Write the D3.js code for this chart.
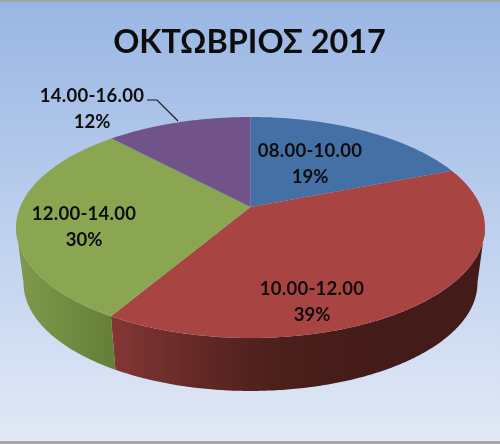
<!DOCTYPE html>
<html><head><meta charset="utf-8">
<script src="https://d3js.org/d3.v7.min.js"></script>
<style>html,body{margin:0;padding:0;background:#fff;overflow:hidden}svg{display:block;filter:blur(0.4px)}
text{font-family:Lato,"Open Sans",sans-serif;font-weight:700;fill:#0d0d0d;text-anchor:middle}</style>
</head><body><svg id="c" width="500" height="444"></svg>
<script>
const titleText = "ΟΚΤΩΒΡΙΟΣ 2017";
const categories = ["08.00-10.00","10.00-12.00","12.00-14.00","14.00-16.00"];
const values = [19.1, 39.4, 29.5, 12];
const topColors = ["#4570a6","#a84543","#8aa650","#725389"];
const wallStops = [
  [["#3a5f8e",0],["#2c4a70",1]],
  [["#843735",0],["#602725",.33],["#4a1f1c",.6],["#431b18",1]],
  [["#7f9a4d",0],["#667f38",1]],
  [["#5f4572",0],["#5f4572",1]]
];
const labelPos = [[310,151],[312,289],[84,214],[92,96]];

const svg = d3.select("#c");
const defs = svg.append("defs");
const bg = defs.append("linearGradient").attr("id","bg").attr("x1",0).attr("x2",0).attr("y1",0).attr("y2",1);
bg.append("stop").attr("offset",0).attr("stop-color","#99b6e3");
bg.append("stop").attr("offset",.55).attr("stop-color","#c0d2ef");
bg.append("stop").attr("offset",1).attr("stop-color","#e2e9f6");
svg.append("rect").attr("width",500).attr("height",444).attr("fill","url(#bg)");
svg.append("rect").attr("width",500).attr("height",2).attr("fill","#a6a6a6");
svg.append("rect").attr("y",441).attr("width",500).attr("height",3).attr("fill","#a6a6a6");

// perspective projection of the pie disc
const cx=250.5, cy=207, R=230.4, B=106.7, K=0.1855;
function proj(a){
  const X=Math.sin(a), Y=-Math.cos(a), w=1-K*Y;
  return [cx+R*X/w, cy+B*Y/w];
}
function lower(p){ return [cx+(p[0]-cx)*0.968, 283+(p[1]-227.5)*0.977]; }
function arcPts(a0,a1){
  const n=Math.max(2,Math.ceil((a1-a0)/0.01));
  return d3.range(n+1).map(i=>proj(a0+(a1-a0)*i/n));
}
const pie = d3.pie().sort(null).startAngle(0).endAngle(2*Math.PI);
const arcs = pie(values);
const line = d3.line();
// only the part of the rim between the two silhouette points faces the viewer
const frontA = Math.acos(-K), frontB = 2*Math.PI-frontA;

wallStops.forEach((st,i)=>{
  const g=defs.append("linearGradient").attr("id","w"+i).attr("gradientUnits","userSpaceOnUse");
  if(i===1){g.attr("x1",110).attr("x2",400)} else if(i===2){g.attr("x1",16).attr("x2",112)} else {g.attr("x1",0).attr("x2",500)}
  g.attr("y1",0).attr("y2",0);
  st.forEach(s=>g.append("stop").attr("offset",s[1]).attr("stop-color",s[0]));
});

// side wall
svg.append("g").selectAll("path")
  .data(arcs.filter(d=>d.endAngle>frontA && d.startAngle<frontB)).join("path")
  .attr("fill",d=>`url(#w${d.index})`)
  .attr("d",d=>{
    const t=arcPts(Math.max(d.startAngle,frontA),Math.min(d.endAngle,frontB));
    return line(t.concat(t.map(lower).reverse()))+"Z";
  });
// top face
svg.append("g").selectAll("path").data(arcs).join("path")
  .attr("fill",(d,i)=>topColors[i])
  .attr("d",d=>line([[cx,cy]].concat(arcPts(d.startAngle,d.endAngle)))+"Z");

svg.append("text").attr("x",249.5).attr("y",53).attr("font-size",32.4).text(titleText);

// leader line
svg.append("path").attr("fill","none").attr("stroke","#1a1a1a").attr("stroke-width",1.2)
  .attr("d",line([[147,100],[157,100],[178,121]]));

const total=d3.sum(values), pct=d3.format(".0%");
const lab=svg.append("g").selectAll("g").data(categories).join("g")
  .attr("transform",(d,i)=>`translate(${labelPos[i][0]},${labelPos[i][1]})`);
lab.append("text").attr("font-size",18.5).attr("letter-spacing",0.25).attr("y",6).text(d=>d);
lab.append("text").attr("font-size",18.5).attr("y",32).text((d,i)=>pct(values[i]/total));
</script></body></html>
